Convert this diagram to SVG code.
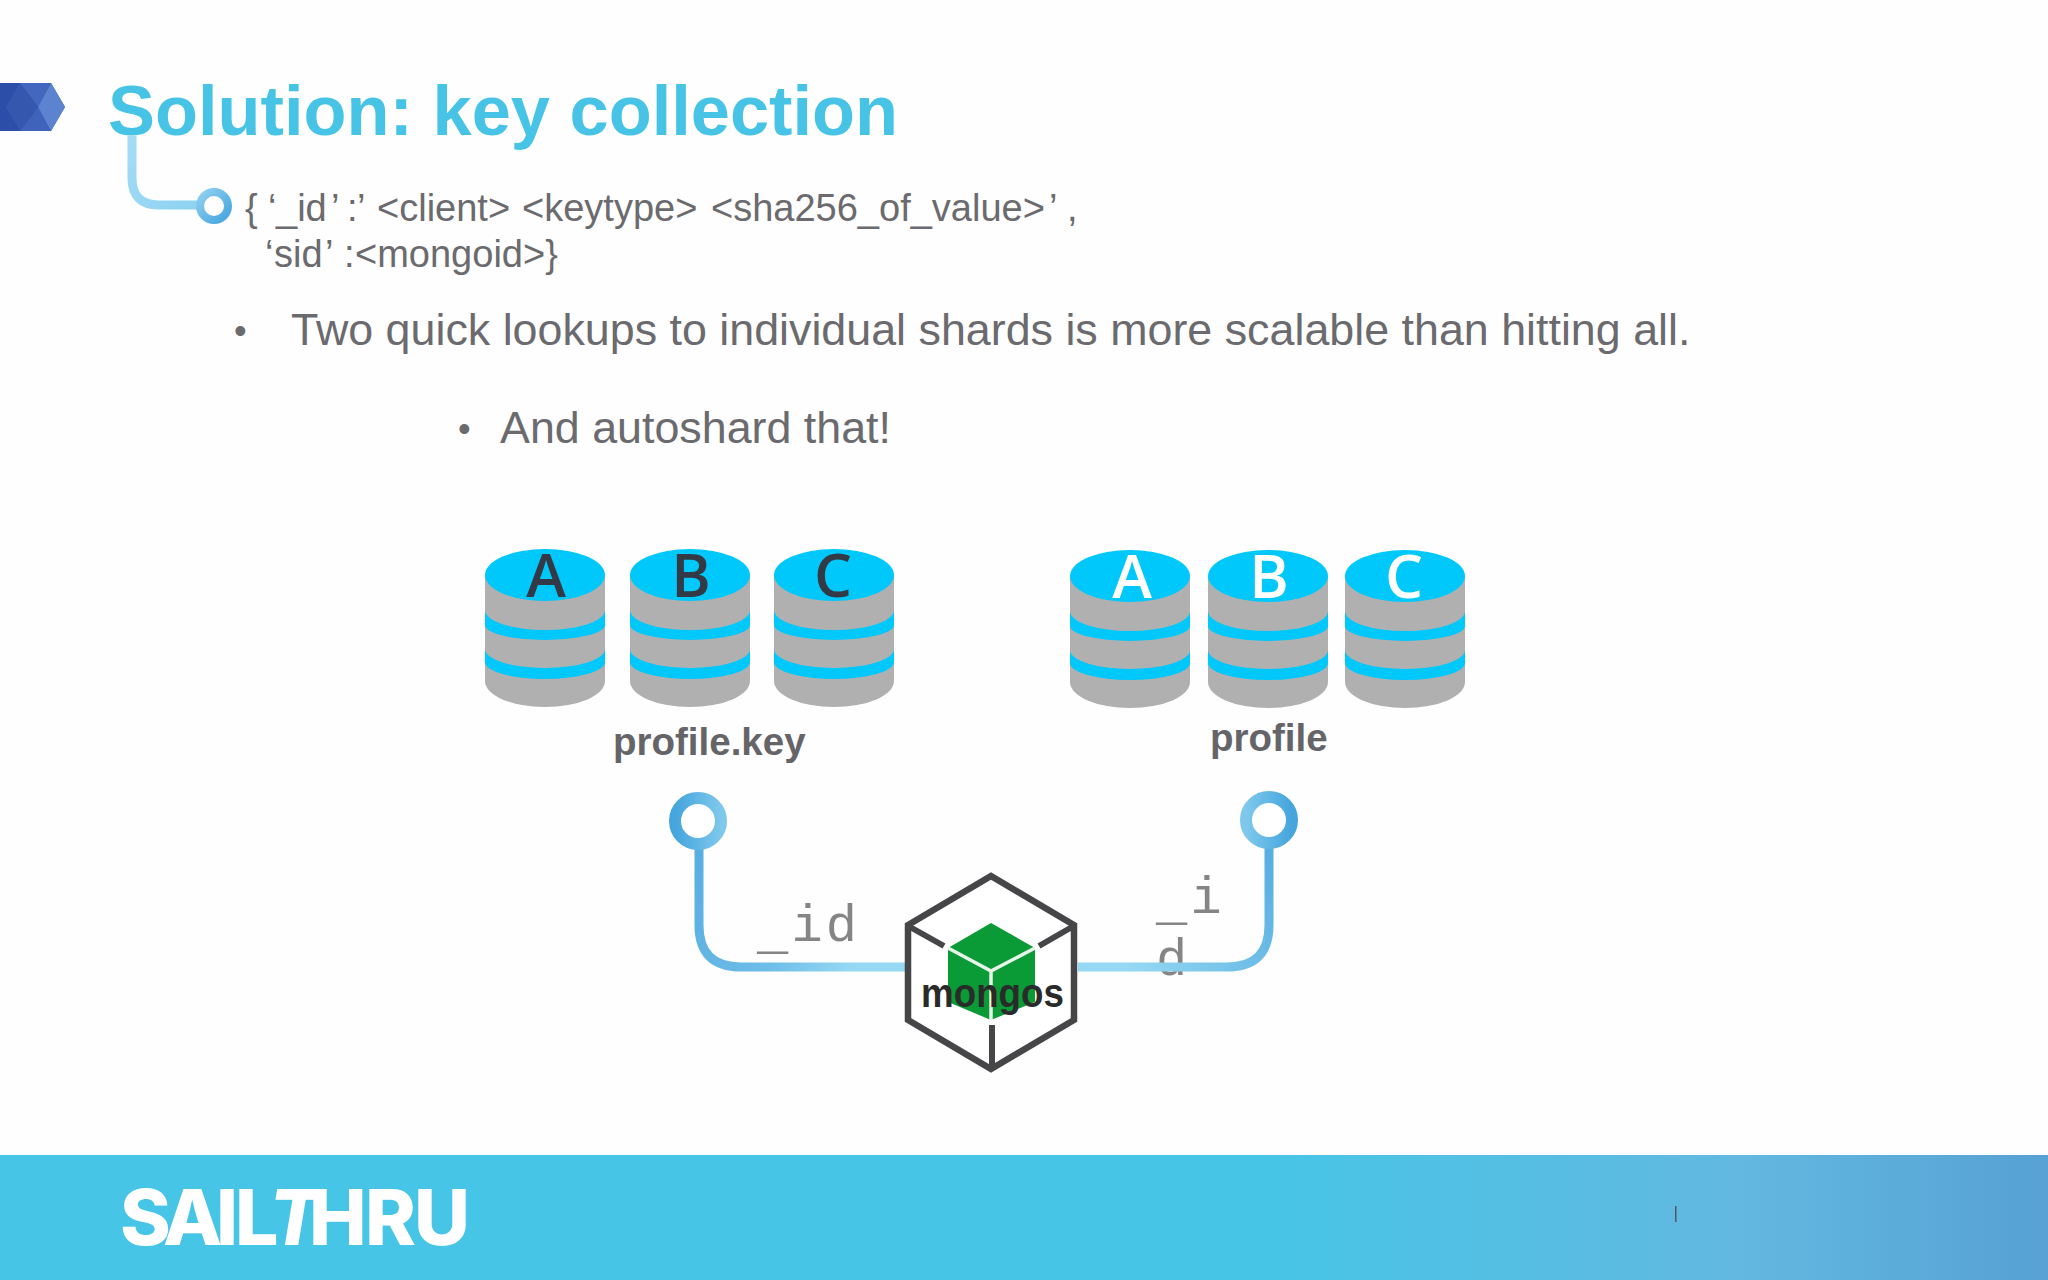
<svg xmlns="http://www.w3.org/2000/svg" width="2048" height="1280" viewBox="0 0 2048 1280">
<style>
text{font-family:"Liberation Sans",Arial,sans-serif;fill:#6b6a6e}
.title{font-size:70.4px;font-weight:700;fill:#47c4e5}
.code{font-size:38px}
.body{font-size:44.8px}
.bul{font-size:36px}
.lbl{font-size:38.5px;font-weight:700;fill:#656468}
.mono{font-family:"Liberation Mono",monospace;font-size:52px;letter-spacing:3.2px;fill:#858585}
.dbl{font-family:"Open Sans",sans-serif;font-size:60px;font-weight:600;text-anchor:middle}
.dk{fill:#333a45}.wh{fill:#ffffff}
.body-g{fill:#b1b0b0}.blue{fill:#00c8fb}
.wire{fill:none;stroke-width:9}
.ring{fill:#fff;stroke-width:12}
</style>
<defs>
<linearGradient id="foot" x1="0" x2="1" y1="0" y2="0"><stop offset="0.62" stop-color="#47c5e6"/><stop offset="0.85" stop-color="#62b8e0"/><stop offset="1" stop-color="#57a1d4"/></linearGradient>
<linearGradient id="wl" gradientUnits="userSpaceOnUse" x1="699" y1="850" x2="905" y2="967"><stop offset="0" stop-color="#58aee0"/><stop offset="0.5" stop-color="#6dbde8"/><stop offset="0.8" stop-color="#95d8f3"/></linearGradient>
<linearGradient id="wr" gradientUnits="userSpaceOnUse" x1="1269" y1="850" x2="1078" y2="967"><stop offset="0" stop-color="#58aee0"/><stop offset="0.5" stop-color="#7cc7ec"/><stop offset="0.8" stop-color="#95d8f3"/></linearGradient>
<linearGradient id="wt" gradientUnits="userSpaceOnUse" x1="131" y1="136" x2="200" y2="206"><stop offset="0" stop-color="#a5dcf5"/><stop offset="1" stop-color="#8dd3f1"/></linearGradient>
<linearGradient id="rg" x1="0" y1="0" x2="1" y2="1"><stop offset="0" stop-color="#8fd0f0"/><stop offset="1" stop-color="#45a5dd"/></linearGradient>
<linearGradient id="rgl" x1="0" y1="0" x2="1" y2="0"><stop offset="0" stop-color="#45a5dd"/><stop offset="1" stop-color="#7ec8ec"/></linearGradient>
<linearGradient id="rgr" x1="0" y1="0" x2="1" y2="0"><stop offset="0" stop-color="#7ec8ec"/><stop offset="1" stop-color="#45a5dd"/></linearGradient>
<g id="db">
<path class="body-g" d="M-60 26V132A60 26 0 0 0 60 132V26Z"/>
<ellipse class="blue" cx="0" cy="26" rx="60" ry="26"/>
<path class="blue" d="M-60 61A60 20 0 0 0 60 61V76A60 15 0 0 1 -60 76Z"/>
<path class="blue" d="M-60 100A60 19 0 0 0 60 100V113A60 17 0 0 1 -60 113Z"/>
</g>
</defs>
<rect width="2048" height="1280" fill="#fefefe"/>
<g id="corner-mark">
<polygon points="0,83 51,83 65,107 51,131 0,131" fill="#2d4ea8"/>
<polygon points="20,83 51,83 38,107" fill="#4367be"/>
<polygon points="20,131 51,131 38,107" fill="#3f63ba"/>
<polygon points="20,83 38,107 20,131 6,107" fill="#3557ae"/>
<polygon points="38,107 51,83 65,107 51,131" fill="#5b83cf"/>
</g>
<g id="heading">
<text class="title" x="108" y="135">Solution: key collection</text>
<text class="code" y="221"><tspan x="245">{</tspan><tspan x="268">‘</tspan><tspan x="276">_id</tspan><tspan x="331">’</tspan><tspan x="347">:</tspan><tspan x="357">’</tspan><tspan x="377">&lt;client&gt;</tspan><tspan x="522">&lt;keytype&gt;</tspan><tspan x="711">&lt;sha256_of_value&gt;</tspan><tspan x="1049">’</tspan><tspan x="1067">,</tspan></text>
<text class="code" y="267"><tspan x="265">‘</tspan><tspan x="274">sid</tspan><tspan x="325">’</tspan><tspan x="344">:</tspan><tspan x="355">&lt;mongoid&gt;}</tspan></text>
<text class="bul" x="234" y="343">•</text>
<text class="body" x="291" y="345">Two quick lookups to individual shards is more scalable than hitting all.</text>
<text class="bul" x="458" y="441">•</text>
<text class="body" x="500" y="443">And autoshard that!</text>
</g>
<g id="node-d">
<text class="mono" x="757" y="941"><tspan dy="7">_</tspan><tspan dy="-7">id</tspan></text>
<text class="mono" x="1156" y="913"><tspan dy="6">_</tspan><tspan dy="-6">i</tspan></text>
<text class="mono" x="1156" y="975">d</text>
</g>
<g id="connectors">
<path class="wire" stroke="url(#wt)" d="M132 136V178Q132 205 159 205H200"/>
<path class="wire" stroke="url(#wl)" d="M699 845V925Q699 967 741 967H905"/>
<path class="wire" stroke="url(#wr)" d="M1269 845V925Q1269 967 1227 967H1078"/>
</g>
<g id="ring-top"><ellipse cx="214" cy="206" rx="14" ry="14" fill="#fff" stroke="url(#rg)" stroke-width="8"/></g>
<g id="ring-left"><circle class="ring" cx="698" cy="821" r="23" stroke="url(#rgl)"/></g>
<g id="ring-right"><circle class="ring" cx="1269" cy="820" r="23" stroke="url(#rgr)"/></g>
<g id="profile-key">
<use href="#db" x="545" y="549"/><use href="#db" x="690" y="549"/><use href="#db" x="834" y="549"/>
<text class="dbl dk" x="546" y="597">A</text><text class="dbl dk" x="691" y="597">B</text><text class="dbl dk" x="833" y="597">C</text>
<text class="lbl" x="613" y="755">profile.key</text>
</g>
<g id="profile">
<use href="#db" x="1130" y="550"/><use href="#db" x="1268" y="550"/><use href="#db" x="1405" y="550"/>
<text class="dbl wh" x="1132" y="598">A</text><text class="dbl wh" x="1269" y="598">B</text><text class="dbl wh" x="1404" y="598">C</text>
<text class="lbl" x="1210" y="751">profile</text>
</g>
<g id="mongos">
<polygon points="991,876 1074,925 1074,1020 991,1069 908,1020 908,925" fill="#fff" stroke="#464648" stroke-width="6.5"/>
<path d="M910 927L944 946M1072 927L1039 946M992 1025V1066" stroke="#464648" stroke-width="6" fill="none"/>
<polygon points="991,923 1035,948 1035,1002 991,1020 948,1002 948,948" fill="#0a9a36"/>
<path d="M948 948L991 971L1035 948M991 971V1020" stroke="#e8f6ea" stroke-width="3.5" fill="none"/>
<text x="921" y="1007" font-size="41" font-weight="700" style="fill:#2a2a2a" textLength="143" lengthAdjust="spacingAndGlyphs">mongos</text>
</g>
<g id="footer">
<rect y="1155" width="2048" height="125" fill="url(#foot)"/>
<text y="1245" style="font-family:Inter,sans-serif;font-size:77px;font-weight:800;fill:#fff"><tspan x="120">S</tspan><tspan x="163">A</tspan><tspan x="216">I</tspan><tspan x="235">L</tspan><tspan x="269" font-style="italic">T</tspan><tspan x="309">H</tspan><tspan x="365">R</tspan><tspan x="414">U</tspan></text>
<rect x="1675" y="1206" width="1.5" height="16" fill="#556"/>
</g>
</svg>
